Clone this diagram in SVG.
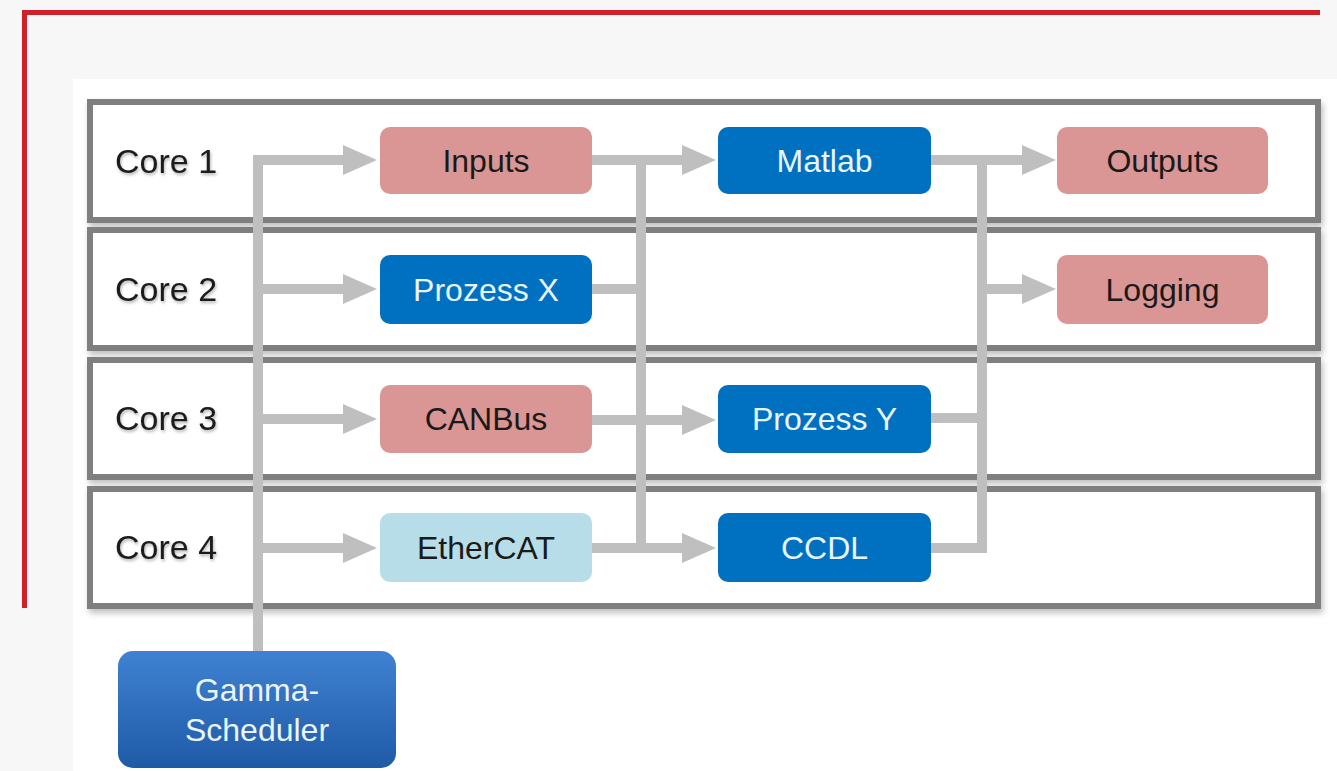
<svg xmlns="http://www.w3.org/2000/svg" width="1337" height="771" viewBox="0 0 1337 771">
<style>
.core{fill:#ffffff;stroke:#7f7f7f;stroke-width:6;filter:url(#sh)}
.clabel{font-family:"Liberation Sans",Arial,sans-serif;font-size:34px;fill:#1a1a1a;filter:url(#tsh)}
.node{stroke:none}
.pink{fill:#d99694}
.blue{fill:#0070c0}
.light{fill:#b7dee8}
.t{font-family:"Liberation Sans",Arial,sans-serif;font-size:32px;text-anchor:middle}
.dark{fill:#1a1a1a}
.white{fill:#eaf4ff}
.conn{fill:none;stroke:#bfbfbf;stroke-width:10;stroke-linejoin:miter}
</style>
<defs>
<filter id="sh" x="-5%" y="-20%" width="110%" height="150%">
<feDropShadow dx="2" dy="4" stdDeviation="3" flood-color="#000" flood-opacity="0.25"/>
</filter>
<filter id="tsh" x="-10%" y="-30%" width="120%" height="160%">
<feDropShadow dx="1" dy="2" stdDeviation="1.5" flood-color="#000" flood-opacity="0.3"/>
</filter>
<linearGradient id="gg" x1="0" y1="0" x2="0" y2="1">
<stop offset="0" stop-color="#3f82d2"/>
<stop offset="1" stop-color="#1f5aa6"/>
</linearGradient>
<marker id="ah" markerUnits="userSpaceOnUse" markerWidth="34" markerHeight="30" refX="0" refY="15" orient="auto" viewBox="0 0 34 30">
<path d="M0,0 L34,15 L0,30 Z" fill="#bfbfbf"/>
</marker>
</defs>
<rect x="0" y="0" width="1337" height="771" fill="#f7f7f7"/>
<rect x="73" y="79" width="1264" height="692" fill="#ffffff"/>
<g id="frame" fill="none" stroke="#d0202a" stroke-width="5">
<path d="M24.5,608 V12.5 H1320"/>
</g>
<g id="core1"><rect class="core" x="90" y="102" width="1228" height="118"/><text class="clabel" x="115" y="173">Core 1</text></g>
<g id="core2"><rect class="core" x="90" y="230" width="1228" height="118"/><text class="clabel" x="115" y="301">Core 2</text></g>
<g id="core3"><rect class="core" x="90" y="360" width="1228" height="117"/><text class="clabel" x="115" y="430">Core 3</text></g>
<g id="core4"><rect class="core" x="90" y="489" width="1228" height="117"/><text class="clabel" x="115" y="559">Core 4</text></g>
<g id="connectors">
<path class="conn" d="M258,651 V160 H343" marker-end="url(#ah)"/>
<path class="conn" d="M258,289 H343" marker-end="url(#ah)"/>
<path class="conn" d="M258,419 H343" marker-end="url(#ah)"/>
<path class="conn" d="M258,548 H343" marker-end="url(#ah)"/>
<path class="conn" d="M592,160 H682" marker-end="url(#ah)"/>
<path class="conn" d="M592,289 H641"/>
<path class="conn" d="M641,160 V553"/>
<path class="conn" d="M592,420 H682" marker-end="url(#ah)"/>
<path class="conn" d="M592,548 H682" marker-end="url(#ah)"/>
<path class="conn" d="M931,160 H1022" marker-end="url(#ah)"/>
<path class="conn" d="M931,548 H982 V160"/>
<path class="conn" d="M931,418 H982"/>
<path class="conn" d="M982,289 H1022" marker-end="url(#ah)"/>
</g>
<g id="inputs"><rect class="node pink" x="380" y="127" width="212" height="67" rx="10"/><text class="t dark" x="486" y="172">Inputs</text></g>
<g id="matlab"><rect class="node blue" x="718" y="127" width="213" height="67" rx="10"/><text class="t white" x="824.5" y="172">Matlab</text></g>
<g id="outputs"><rect class="node pink" x="1057" y="127" width="211" height="67" rx="10"/><text class="t dark" x="1162.5" y="172">Outputs</text></g>
<g id="prozessx"><rect class="node blue" x="380" y="255" width="212" height="69" rx="10"/><text class="t white" x="486" y="301">Prozess X</text></g>
<g id="logging"><rect class="node pink" x="1057" y="255" width="211" height="69" rx="10"/><text class="t dark" x="1162.5" y="301">Logging</text></g>
<g id="canbus"><rect class="node pink" x="380" y="385" width="212" height="68" rx="10"/><text class="t dark" x="486" y="430">CANBus</text></g>
<g id="prozessy"><rect class="node blue" x="718" y="385" width="213" height="68" rx="10"/><text class="t white" x="824.5" y="430">Prozess Y</text></g>
<g id="ethercat"><rect class="node light" x="380" y="513" width="212" height="69" rx="10"/><text class="t dark" x="486" y="559">EtherCAT</text></g>
<g id="ccdl"><rect class="node blue" x="718" y="513" width="213" height="69" rx="10"/><text class="t white" x="824.5" y="559">CCDL</text></g>
<g id="gamma"><rect x="118" y="651" width="278" height="117" rx="15" fill="url(#gg)"/><text class="t white" x="257" y="701">Gamma-</text><text class="t white" x="257" y="741">Scheduler</text></g>
</svg>
